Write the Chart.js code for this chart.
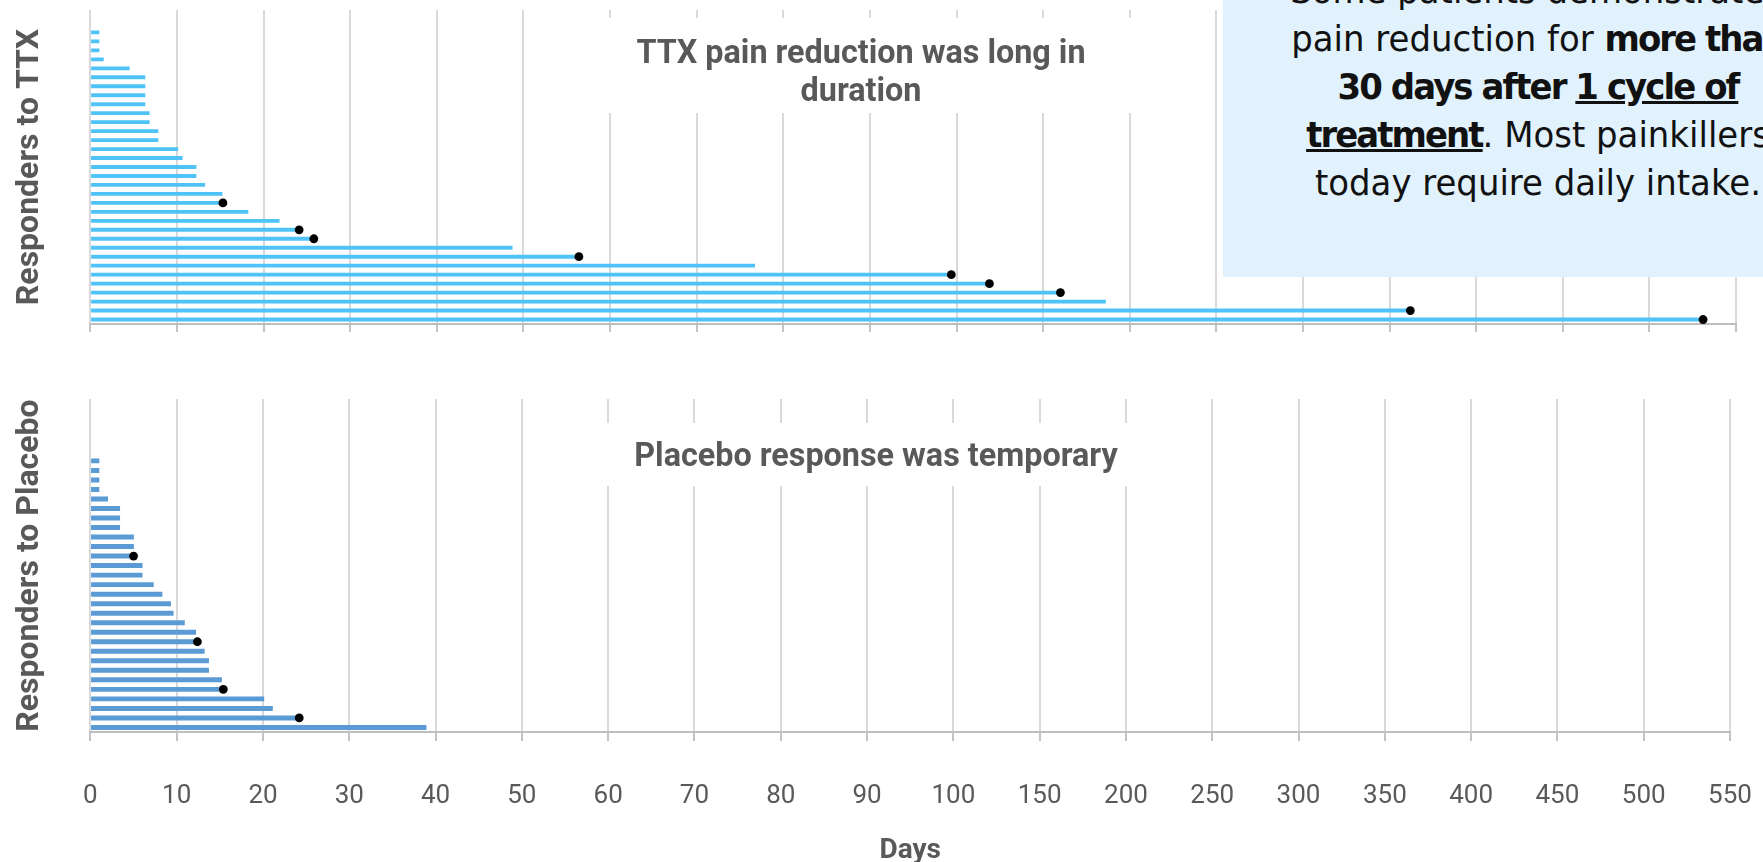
<!DOCTYPE html>
<html>
<head>
<meta charset="utf-8">
<script src="https://cdn.jsdelivr.net/npm/chart.js@4.4.1/dist/chart.umd.min.js"></script>
<style>
  html, body { margin: 0; padding: 0; background: #fff; }
  body { width: 1763px; height: 862px; position: relative; overflow: hidden; }
  canvas { position: absolute; left: 0; }
  #ttxChart { top: 0; }
  #placeboChart { top: 380px; }
  .title-mask { position: absolute; left: 580px; width: 580px; background: #fff; }
  .panel-title {
    position: absolute; width: 800px; text-align: center;
    font: bold 33px Roboto, sans-serif; line-height: 38px; color: #595959;
    transform: scaleX(0.98);
  }
  #note {
    position: absolute; left: 1223px; top: 0; width: 630px; height: 277px;
    background: #E1F2FD;
  }
  #note p {
    margin: 0; position: absolute; left: 0; right: 0; top: -33px;
    text-align: center; font: 35px "DejaVu Sans", sans-serif; line-height: 48px;
    color: #111; transform: scaleX(0.97);
  }
  #note b { letter-spacing: -2px; }
</style>
</head>
<body>
<canvas id="ttxChart" width="1763" height="345"></canvas>
<canvas id="placeboChart" width="1763" height="500"></canvas>

<div class="title-mask" style="top:18px;height:95px"></div>
<div class="panel-title" style="left:461px;top:33px">TTX pain reduction was long in<br>duration</div>
<div class="title-mask" style="top:423px;height:63px"></div>
<div class="panel-title" style="left:476px;top:436px">Placebo response was temporary</div>

<div id="note">
  <p>Some patients demonstrated<br>pain reduction for <b>more than<br>30 days after <u>1 cycle of<br>treatment</u></b>. Most painkillers<br>today require daily intake.</p>
</div>

<script>
// days of pain reduction per responder, shortest first (top row first)
const ttxDays = [1, 1, 1, 1.5, 4.5, 6.3, 6.3, 6.3, 6.3, 6.8, 6.8, 7.8, 7.8, 10.1, 10.6, 12.2, 12.2,
                 13.2, 15.2, 15.3, 18.2, 21.8, 24.1, 25.8, 48.7, 56.4, 76.7, 99.4, 119, 160, 186, 362, 531];
// 1 = responder marked with a black dot
const ttxDot = [0, 0, 0, 0, 0, 0, 0, 0, 0, 0, 0, 0, 0, 0, 0, 0, 0,
                0, 0, 1, 0, 0, 1, 1, 0, 1, 0, 1, 1, 1, 0, 1, 1];

const placeboDays = [1, 1, 1, 1, 2, 3.4, 3.4, 3.4, 5, 5, 5, 6, 6, 7.3, 8.3, 9.3, 9.6,
                     10.9, 12.2, 12.4, 13.2, 13.7, 13.7, 15.2, 15.4, 20.1, 21.1, 24.2, 38.9];
const placeboDot = [0, 0, 0, 0, 0, 0, 0, 0, 0, 0, 1, 0, 0, 0, 0, 0, 0,
                    0, 0, 1, 0, 0, 0, 0, 1, 0, 0, 1, 0];

// x axis: 10-day steps up to 100, then 50-day steps, all drawn equally spaced
const dayTicks = [0, 10, 20, 30, 40, 50, 60, 70, 80, 90, 100, 150, 200, 250, 300, 350, 400, 450, 500, 550];

const rowCount = 35; // rows in each panel, empty rows stay on top

function tickStep(value) {
    const last = dayTicks.length - 1;
    for (let i = 1; i <= last; i++) {
        if (value <= dayTicks[i]) {
            return i - 1 + (value - dayTicks[i - 1]) / (dayTicks[i] - dayTicks[i - 1]);
        }
    }
    return last + (value - dayTicks[last]) / (dayTicks[last] - dayTicks[last - 1]);
}

class DayScale extends Chart.LinearScale {
    buildTicks() {
        return dayTicks.map(v => ({ value: v }));
    }
    getPixelForValue(value) {
        if (value === null || value === undefined || isNaN(value)) return NaN;
        return this.getPixelForDecimal(tickStep(value) / (dayTicks.length - 1));
    }
    getValueForPixel(pixel) {
        const s = this.getDecimalForPixel(pixel) * (dayTicks.length - 1);
        const i = Math.max(0, Math.min(dayTicks.length - 2, Math.floor(s)));
        return dayTicks[i] + (s - i) * (dayTicks[i + 1] - dayTicks[i]);
    }
}
DayScale.id = 'days';
DayScale.defaults = {};
Chart.register(DayScale);

function padRows(values) {
    const pad = new Array(rowCount - values.length).fill(null);
    return pad.concat(values);
}

function makePanel(canvasId, days, dots, color, thickness, yTitle, showLabels, padding) {
    const labels = [];
    for (let i = 0; i < rowCount; i++) labels.push(String(i + 1));

    const dotData = padRows(days.map((d, i) => dots[i] ? d : null));

    return new Chart(document.getElementById(canvasId), {
        type: 'bar',
        data: {
            labels: labels,
            datasets: [{
                type: 'line',
                data: dotData,
                showLine: false,
                pointRadius: 4.4,
                pointBackgroundColor: '#000',
                pointBorderWidth: 0,
                order: 1
            }, {
                data: padRows(days),
                backgroundColor: color,
                barThickness: thickness,
                order: 2
            }]
        },
        options: {
            indexAxis: 'y',
            responsive: false,
            animation: false,
            layout: { padding: padding },
            plugins: {
                legend: { display: false },
                tooltip: { enabled: false }
            },
            scales: {
                x: {
                    type: 'days',
                    min: 0,
                    max: 550,
                    grid: {
                        color: '#D9D9D9',
                        lineWidth: 2,
                        tickColor: '#C4C4C4',
                        // long tick box keeps labels low, only 8px of it is drawn
                        tickLength: showLabels ? 49 : 8,
                        tickBorderDash: [8, 200]
                    },
                    border: { color: '#BFBFBF', width: 2 },
                    ticks: {
                        display: showLabels,
                        autoSkip: false,
                        maxRotation: 0,
                        padding: 0,
                        color: '#595959',
                        font: { family: 'Roboto', size: 26 },
                        callback: v => String(v)
                    },
                    title: {
                        display: showLabels,
                        text: 'Days',
                        color: '#595959',
                        font: { family: 'Roboto', size: 28, weight: 'bold' },
                        padding: { top: 22, bottom: 0 }
                    }
                },
                y: {
                    grid: { display: false, drawTicks: false },
                    border: { display: false },
                    ticks: { display: false },
                    title: {
                        display: true,
                        text: yTitle,
                        color: '#595959',
                        font: { family: 'Roboto', size: 32, weight: 'bold' },
                        padding: { top: 11, bottom: 41 }
                    }
                }
            }
        }
    });
}

makePanel('ttxChart', ttxDays, ttxDot, '#4FC3F7', 3.2, 'Responders to TTX', false,
    { top: 10, bottom: 13, left: 0, right: 27 });
makePanel('placeboChart', placeboDays, placeboDot, '#5B9BD5', 4.3, 'Responders to Placebo', true,
    { top: 19, bottom: 12, left: 0, right: 33 });
</script>
</body>
</html>
